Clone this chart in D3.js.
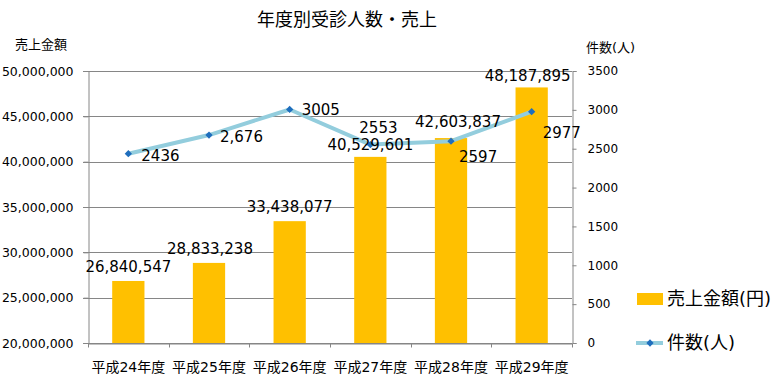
<!DOCTYPE html>
<html>
<head>
<meta charset="utf-8">
<script src="https://cdn.jsdelivr.net/npm/d3@7"></script>
<style>
  body { margin: 0; background: #fff; }
  text { font-family: "DejaVu Sans", "Noto Sans CJK JP", sans-serif; fill: #000; }
</style>
</head>
<body>
<div id="chart"></div>
<script>
const width = 783;
const height = 382;

// data
const years = ["平成24年度", "平成25年度", "平成26年度", "平成27年度", "平成28年度", "平成29年度"];
const sales = [26840547, 28833238, 33438077, 40529601, 42603837, 48187895];
const counts = [2436, 2676, 3005, 2553, 2597, 2977];
const countLabels = ["2436", "2,676", "3005", "2553", "2597", "2977"];
const salesTicks = [20000000, 25000000, 30000000, 35000000, 40000000, 45000000, 50000000];
const countTicks = [0, 500, 1000, 1500, 2000, 2500, 3000, 3500];

// manual nudges of the data labels, like the hand-placed ones in the original
const salesLabelShift = [[0, 0], [1, 0], [0, 0], [0, 2], [7, -2], [-4, 3]];
const countLabelShift = [[13, 7], [11, 7], [12, 6], [-11, -12], [8, 21], [11, 26]];

const plot = { left: 88, right: 572, top: 71, bottom: 343 };

const svg = d3.select("#chart").append("svg")
  .attr("width", width)
  .attr("height", height);

const x = d3.scaleBand()
  .domain(years)
  .range([plot.left, plot.right]);

const ySales = d3.scaleLinear()
  .domain([20000000, 50000000])
  .range([plot.bottom, plot.top]);

const yCount = d3.scaleLinear()
  .domain([0, 3500])
  .range([plot.bottom, plot.top]);

const cx = d => x(d) + x.bandwidth() / 2;
const barW = x.bandwidth() * 0.4;

// gridlines (left axis)
svg.append("g")
  .attr("stroke", "#868686")
  .selectAll("line")
  .data(salesTicks)
  .join("line")
  .attr("x1", plot.left - 5)
  .attr("x2", plot.right)
  .attr("y1", d => Math.round(ySales(d)) + 0.5)
  .attr("y2", d => Math.round(ySales(d)) + 0.5);

// left axis
const leftAxis = svg.append("g")
  .attr("transform", `translate(${plot.left + 0.5},0)`)
  .call(d3.axisLeft(ySales).tickValues(salesTicks).tickFormat(d3.format(",")).tickSize(5).tickPadding(10));
leftAxis.select(".domain").attr("stroke", "#868686");
leftAxis.selectAll(".tick line").attr("stroke", "#868686");
leftAxis.selectAll("text").style("font-size", "12.5px").attr("fill", "#000");

// right axis
const rightAxis = svg.append("g")
  .attr("transform", `translate(${plot.right + 0.5},0)`)
  .call(d3.axisRight(yCount).tickValues(countTicks).tickFormat(d3.format("d")).tickSize(4).tickPadding(11));
rightAxis.select(".domain").attr("stroke", "#868686");
rightAxis.selectAll(".tick line").attr("stroke", "#868686");
rightAxis.selectAll("text").style("font-size", "12px").attr("fill", "#000");

// bottom axis
const bottomAxis = svg.append("g")
  .attr("transform", `translate(0,${plot.bottom + 0.5})`)
  .call(d3.axisBottom(x).tickSize(0).tickPadding(19));
bottomAxis.select(".domain").attr("stroke", "#868686");
bottomAxis.selectAll("text").style("font-size", "14px").attr("fill", "#000");
bottomAxis.append("g")
  .attr("stroke", "#868686")
  .selectAll("line")
  .data(years.concat([null]))
  .join("line")
  .attr("x1", d => Math.round(d ? x(d) : plot.right) + 0.5)
  .attr("x2", d => Math.round(d ? x(d) : plot.right) + 0.5)
  .attr("y1", 0)
  .attr("y2", 4);

// bars
svg.append("g")
  .attr("fill", "#FFC000")
  .selectAll("rect")
  .data(sales)
  .join("rect")
  .attr("x", (d, i) => cx(years[i]) - barW / 2)
  .attr("y", d => ySales(d))
  .attr("width", barW)
  .attr("height", d => plot.bottom - ySales(d));

// line
const line = d3.line()
  .x((d, i) => cx(years[i]))
  .y(d => yCount(d));

svg.append("path")
  .datum(counts)
  .attr("fill", "none")
  .attr("stroke", "#93CDDD")
  .attr("stroke-width", 4)
  .attr("stroke-linejoin", "round")
  .attr("d", line);

const diamond = d3.symbol().type(d3.symbolDiamond2).size(34);

svg.append("g")
  .attr("fill", "#1F6EBD")
  .selectAll("path")
  .data(counts)
  .join("path")
  .attr("transform", (d, i) => `translate(${cx(years[i])},${yCount(d)})`)
  .attr("d", diamond);

// data labels
svg.append("g")
  .selectAll("text")
  .data(sales)
  .join("text")
  .attr("x", (d, i) => cx(years[i]) + salesLabelShift[i][0])
  .attr("y", (d, i) => ySales(d) - 9 + salesLabelShift[i][1])
  .attr("text-anchor", "middle")
  .style("font-size", "15px")
  .text(d => d3.format(",")(d));

svg.append("g")
  .selectAll("text")
  .data(counts)
  .join("text")
  .attr("x", (d, i) => cx(years[i]) + countLabelShift[i][0])
  .attr("y", (d, i) => yCount(d) + countLabelShift[i][1])
  .style("font-size", "15px")
  .text((d, i) => countLabels[i]);

// titles
svg.append("text")
  .attr("x", 347)
  .attr("y", 26)
  .attr("text-anchor", "middle")
  .style("font-size", "18px")
  .text("年度別受診人数・売上");

svg.append("text")
  .attr("x", 15)
  .attr("y", 49)
  .style("font-size", "13px")
  .text("売上金額");

svg.append("text")
  .attr("x", 586)
  .attr("y", 52)
  .style("font-size", "13px")
  .text("件数(人)");

// legend
const legend = svg.append("g");

legend.append("rect")
  .attr("x", 637)
  .attr("y", 293)
  .attr("width", 26)
  .attr("height", 12)
  .attr("fill", "#FFC000");

legend.append("text")
  .attr("x", 667)
  .attr("y", 305)
  .style("font-size", "18px")
  .text("売上金額(円)");

legend.append("line")
  .attr("x1", 636)
  .attr("x2", 663)
  .attr("y1", 343)
  .attr("y2", 343)
  .attr("stroke", "#93CDDD")
  .attr("stroke-width", 4);

legend.append("path")
  .attr("transform", "translate(650,343)")
  .attr("fill", "#1F6EBD")
  .attr("d", diamond);

legend.append("text")
  .attr("x", 667)
  .attr("y", 349)
  .style("font-size", "18px")
  .text("件数(人)");
</script>
</body>
</html>
